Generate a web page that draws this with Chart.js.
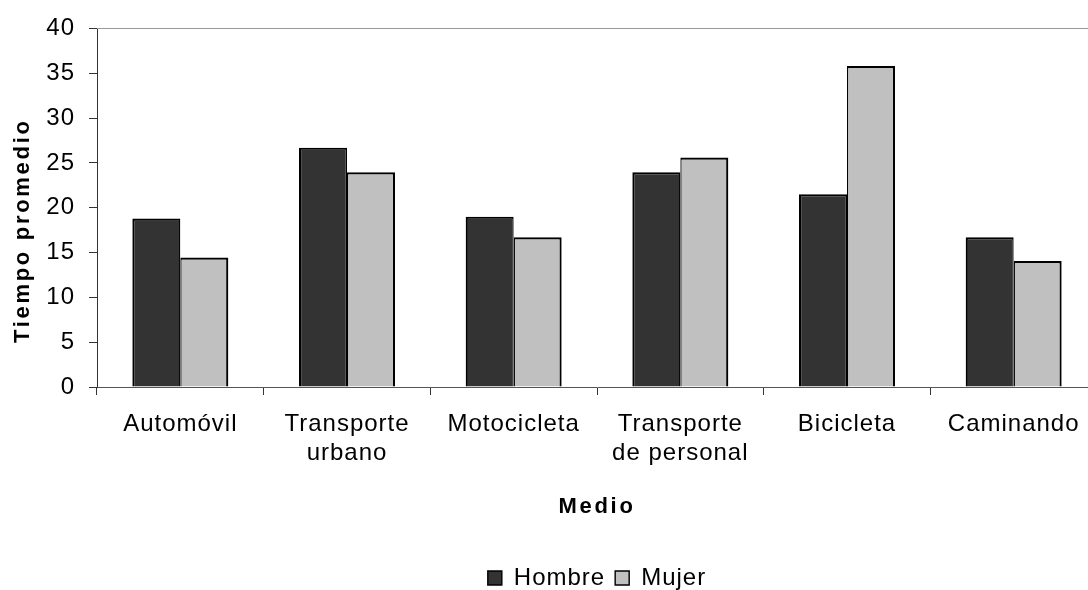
<!DOCTYPE html>
<html>
<head>
<meta charset="utf-8">
<script src="https://cdn.jsdelivr.net/npm/chart.js@4/dist/chart.umd.min.js"></script>
<style>
  html, body { margin: 0; padding: 0; background: #fff; overflow: hidden; }
  #wrap { position: relative; width: 1100px; height: 600px; }
</style>
</head>
<body>
<div id="wrap"><canvas id="c"></canvas></div>
<script>
const categories = ['Automóvil', ['Transporte', 'urbano'], 'Motocicleta', ['Transporte', 'de personal'], 'Bicicleta', 'Caminando'];
const seriesNames = ['Hombre', 'Mujer'];
const hombre = [18.8, 26.7, 19.0, 23.95, 21.5, 16.7];
const mujer = [14.45, 23.95, 16.7, 25.6, 35.8, 14.05];
const yTitle = 'Tiempo promedio';
const xTitle = 'Medio';

const FONT = "'Liberation Sans', Arial, sans-serif";

const spacingPlugin = {
  id: 'spacing',
  beforeLayout(chart) { chart.ctx.letterSpacing = '1px'; },
  beforeDraw(chart) { chart.ctx.letterSpacing = '1px'; },
  afterDraw(chart) {
    const ctx = chart.ctx;
    const a = chart.chartArea;
    const xs = chart.scales.x;
    ctx.save();
    // top frame line
    ctx.strokeStyle = '#999999';
    ctx.lineWidth = 1;
    ctx.beginPath();
    ctx.moveTo(a.left, Math.round(a.top) + 0.5);
    ctx.lineTo(a.right, Math.round(a.top) + 0.5);
    ctx.stroke();
    // axis titles
    ctx.fillStyle = '#000';
    ctx.font = 'bold 22px ' + FONT;
    ctx.letterSpacing = '2.7px';
    ctx.textAlign = 'center';
    ctx.textBaseline = 'middle';
    ctx.fillText(xTitle, (a.left + a.right) / 2, xs.bottom - 49);
    ctx.translate(23, (a.top + a.bottom) / 2 + 23);
    ctx.rotate(-Math.PI / 2);
    ctx.fillText(yTitle, 0, 0);
    ctx.restore();
  }
};

new Chart(document.getElementById('c'), {
  type: 'bar',
  data: {
    labels: categories,
    datasets: [
      {
        label: seriesNames[0],
        data: hombre,
        backgroundColor: '#333333',
        borderColor: '#000000',
        borderWidth: { top: 2.2, left: 2.2, right: 1.3, bottom: 0 },
        borderSkipped: false
      },
      {
        label: seriesNames[1],
        data: mujer,
        backgroundColor: '#C0C0C0',
        borderColor: '#000000',
        borderWidth: { top: 2.2, left: 1.3, right: 2.2, bottom: 0 },
        borderSkipped: false
      }
    ]
  },
  options: {
    responsive: true,
    maintainAspectRatio: false,
    animation: false,
    devicePixelRatio: 1,
    layout: { padding: { top: 28, right: 3, bottom: 0, left: 0 } },
    datasets: { bar: { categoryPercentage: 0.576, barPercentage: 1.0 } },
    plugins: {
      legend: {
        position: 'bottom',
        fullSize: false,
        labels: {
          color: '#000',
          font: { family: FONT, size: 24 },
          boxWidth: 14,
          boxHeight: 14,
          padding: 10
        }
      },
      tooltip: { enabled: false },
      title: { display: false }
    },
    scales: {
      x: {
        offset: true,
        grid: { display: true, drawOnChartArea: false, drawTicks: true, tickLength: 8, tickColor: '#333', offset: true },
        border: { display: true, color: '#555', width: 1 },
        ticks: {
          color: '#000',
          font: { family: FONT, size: 24, lineHeight: 1.2 },
          padding: 15,
          maxRotation: 0,
          autoSkip: false
        },
        afterFit(scale) { scale.height = 169; }
      },
      y: {
        min: 0,
        max: 40,
        grid: { display: true, drawOnChartArea: false, drawTicks: true, tickLength: 8, tickColor: '#333' },
        border: { display: true, color: '#333', width: 1 },
        ticks: {
          stepSize: 5,
          color: '#000',
          font: { family: FONT, size: 24 },
          padding: 14
        },
        afterFit(scale) { scale.width = 97; }
      }
    }
  },
  plugins: [spacingPlugin]
});
</script>
</body>
</html>
